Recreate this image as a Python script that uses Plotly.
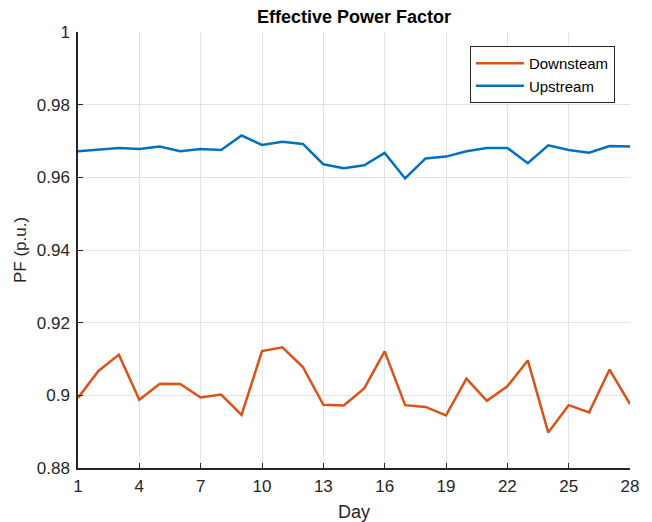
import plotly.graph_objects as go

days = list(range(1, 29))
downstream = [0.8993, 0.9067, 0.9112, 0.8988, 0.9032, 0.9031, 0.8994, 0.9002, 0.8946, 0.9122,
              0.9132, 0.9078, 0.8974, 0.8972, 0.9019, 0.9121, 0.8973, 0.8968, 0.8945, 0.9046,
              0.8985, 0.9025, 0.9096, 0.8898, 0.8973, 0.8953, 0.9071, 0.8976]
upstream = [0.9672, 0.9677, 0.9681, 0.9678, 0.9685, 0.9672, 0.9678, 0.9675, 0.9715, 0.9689,
            0.9698, 0.9692, 0.9636, 0.9625, 0.9633, 0.9667, 0.9597, 0.9652, 0.9657, 0.9672,
            0.9681, 0.9681, 0.9639, 0.9688, 0.9675, 0.9668, 0.9686, 0.9685]
x_ticks = [1, 4, 7, 10, 13, 16, 19, 22, 25, 28]
y_ticks = [0.88, 0.90, 0.92, 0.94, 0.96, 0.98, 1.00]
y_tick_labels = ["0.88", "0.9", "0.92", "0.94", "0.96", "0.98", "1"]

font_family = "Liberation Sans, Arial, sans-serif"

fig = go.Figure()
fig.add_trace(go.Scatter(x=days, y=downstream, mode="lines", name="Downsteam",
                         line=dict(color="#D95319", width=2.5)))
fig.add_trace(go.Scatter(x=days, y=upstream, mode="lines", name="Upstream",
                         line=dict(color="#0072BD", width=2.5)))

fig.update_layout(
    width=652, height=522,
    margin=dict(l=78, r=22, t=31.5, b=54),
    paper_bgcolor="white", plot_bgcolor="white",
    font=dict(family=font_family, size=17, color="#262626"),
    title=dict(text="<b>Effective Power Factor</b>", x=0.5, xref="paper", xanchor="center",
               y=1 - 16.5 / 522, yanchor="middle", font=dict(size=18, color="#000000")),
    legend=dict(x=0.71, y=0.968, xanchor="left", yanchor="top",
                bordercolor="#262626", borderwidth=1, bgcolor="white",
                font=dict(size=15, color="#000000"), tracegroupgap=0,
                itemwidth=48),
    showlegend=True,
)
fig.update_xaxes(
    range=[1, 28], tickvals=x_ticks, ticktext=[str(v) for v in x_ticks],
    showgrid=True, gridcolor="#e3e3e3", gridwidth=1,
    showline=True, linecolor="#262626", linewidth=1.5,
    ticks="inside", ticklen=5, tickcolor="#262626",
    title=dict(text="Day", standoff=10, font=dict(size=18)),
    zeroline=False, tickfont=dict(size=17), ticklabelstandoff=2,
    automargin=False,
)
fig.update_yaxes(
    range=[0.88, 1.0], tickvals=y_ticks, ticktext=y_tick_labels,
    showgrid=True, gridcolor="#e3e3e3", gridwidth=1,
    showline=True, linecolor="#262626", linewidth=1.5,
    ticks="inside", ticklen=5, tickcolor="#262626",
    title=dict(text="PF (p.u.)", standoff=6, font=dict(size=17)),
    zeroline=False, tickfont=dict(size=17), ticklabelstandoff=3,
    automargin=False,
)

fig.write_html("out.html")
